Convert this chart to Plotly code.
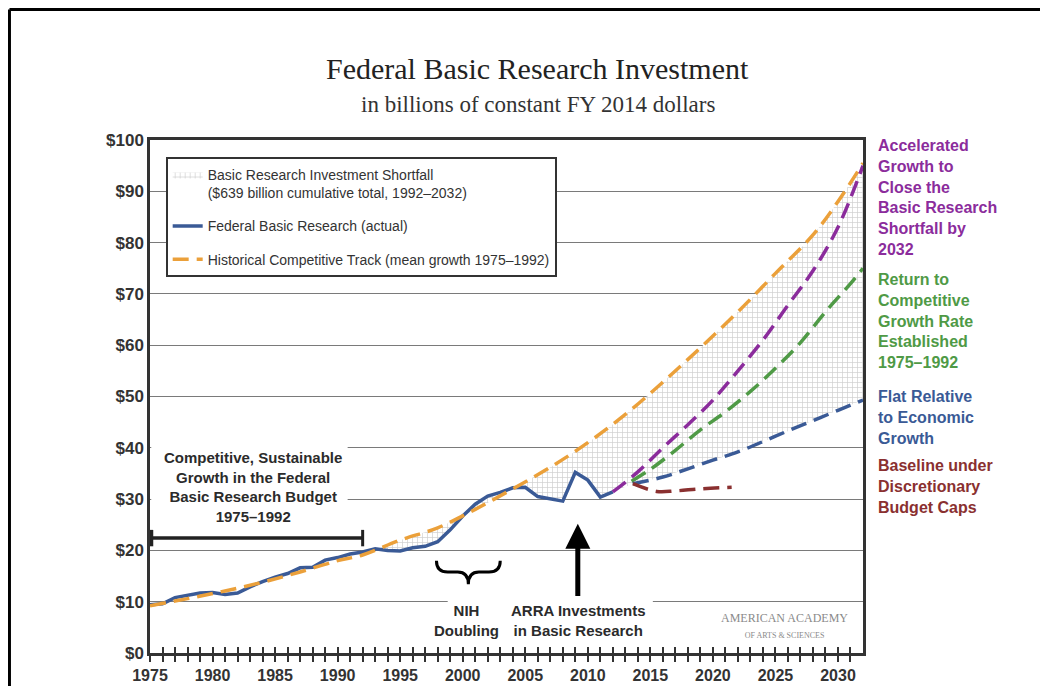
import plotly.graph_objects as go

# actual federal basic research, billions of constant FY2014 dollars
actual_years = list(range(1975, 2013))
actual = [9.4, 9.6, 10.8, 11.3, 11.7, 11.8, 11.4, 11.7, 12.9, 13.9,
          14.8, 15.5, 16.6, 16.7, 18.1, 18.6, 19.3, 19.7, 20.3, 20.0,
          19.9, 20.5, 20.8, 21.7, 24.0, 26.7, 29.0, 30.6, 31.3, 32.2,
          32.3, 30.5, 30.0, 29.6, 35.2, 33.7, 30.4, 31.4]

# historical competitive track (mean growth 1975-1992)
track_years = [1975, 1978, 1981, 1984, 1987, 1990, 1992, 1995, 1998, 2001,
               2004, 2007, 2010, 2013, 2016, 2019, 2022, 2025, 2028, 2030, 2032]
track = [9.2, 10.6, 12.1, 13.8, 15.8, 18.0, 19.1, 22.0, 24.4, 28.0,
         32.0, 36.2, 41.0, 46.5, 52.8, 59.5, 66.5, 74.0, 81.5, 88.0, 95.5]

# projections
accel_years = [2012, 2014, 2016, 2018, 2020, 2022, 2024, 2026, 2028, 2030, 2032]
accel = [31.4, 35.3, 40.0, 44.5, 49.3, 55.0, 61.0, 67.8, 74.5, 83.0, 95.0]

compet_years = [2013.5, 2015, 2017, 2019, 2021, 2023, 2025, 2027, 2029, 2031, 2032]
compet = [33.5, 35.8, 39.5, 43.5, 47.0, 51.0, 55.5, 60.5, 66.5, 72.0, 75.0]

flat_years = [2013.6, 2016, 2018, 2020, 2022, 2024, 2026, 2028, 2030, 2032]
flat = [33.0, 34.3, 35.9, 37.6, 39.2, 41.2, 43.3, 45.3, 47.3, 49.3]

caps_years = [2013.6, 2015.5, 2017, 2019, 2021.5]
caps = [33.0, 31.5, 31.6, 32.0, 32.3]

tick_years = list(range(1975, 2032))
tick_text = [str(y) if y % 5 == 0 else "" for y in tick_years]

SANS = "Liberation Sans, Arial, sans-serif"
SERIF = "Liberation Serif, DejaVu Serif, serif"
BLUE = "#3a5a96"
ORANGE = "#eba03a"
PURPLE = "#8b2c9c"
GREEN = "#4f9a46"
RED = "#8a3030"
DARK = "#2b2b2b"
DASH = "16px,8px"

# shortfall boundaries (1992 onward)
up_x = [x for x in track_years if x >= 1992]
up_y = [v for x, v in zip(track_years, track) if x >= 1992]
low_x = [x for x in actual_years if x >= 1992] + flat_years
low_y = [v for x, v in zip(actual_years, actual) if x >= 1992] + flat

fig = go.Figure()

fig.add_trace(go.Scatter(x=up_x, y=up_y, mode="lines", line=dict(width=0, shape="spline"),
                         showlegend=False, hoverinfo="skip", legendgroup="a"))
fig.add_trace(go.Scatter(
    x=low_x, y=low_y, mode="lines", line=dict(width=0), fill="tonexty", legendgroup="a",
    fillpattern=dict(shape="+", fgcolor="#9c9c9c", bgcolor="white", size=5, solidity=0.25),
    name="Basic Research Investment Shortfall<br>($639 billion cumulative total, 1992–2032)"))

fig.add_trace(go.Scatter(x=actual_years, y=actual, mode="lines", legendgroup="b",
                         line=dict(color=BLUE, width=3.5),
                         name="Federal Basic Research (actual)"))
fig.add_trace(go.Scatter(x=track_years, y=track, mode="lines", legendgroup="c",
                         line=dict(color=ORANGE, width=3.5, dash=DASH, shape="spline"),
                         name="Historical Competitive Track (mean growth 1975–1992)"))

for xs, ys, col in [(accel_years, accel, PURPLE), (compet_years, compet, GREEN),
                    (flat_years, flat, BLUE), (caps_years, caps, RED)]:
    fig.add_trace(go.Scatter(x=xs, y=ys, mode="lines", showlegend=False,
                             line=dict(color=col, width=3.5, dash=DASH, shape="spline")))

# dummy trace for the overlay axis (inner half of the tick marks)
fig.add_trace(go.Scatter(x=[None], y=[None], xaxis="x2", showlegend=False))

ann = []
ann.append(dict(text="Federal Basic Research Investment", x=0.544, y=1.140, xref="paper", yref="paper",
                yanchor="middle", showarrow=False, font=dict(family=SERIF, size=30, color="#222")))
ann.append(dict(text="in billions of constant FY 2014 dollars", x=0.544, y=1.070, xref="paper", yref="paper",
                yanchor="middle", showarrow=False, font=dict(family=SERIF, size=23, color="#333")))

right = [
    ("Accelerated<br>Growth to<br>Close the<br>Basic Research<br>Shortfall by<br>2032", 1.0097, PURPLE),
    ("Return to<br>Competitive<br>Growth Rate<br>Established<br>1975–1992", 0.7485, GREEN),
    ("Flat Relative<br>to Economic<br>Growth", 0.5205, BLUE),
    ("Baseline under<br>Discretionary<br>Budget Caps", 0.386, RED),
]
for txt, yy, col in right:
    ann.append(dict(text=txt, x=1.018, y=yy, xref="paper", yref="paper", xanchor="left",
                    yanchor="top", align="left", showarrow=False,
                    font=dict(family=SANS, size=16, color=col, weight="bold")))

ann.append(dict(text="Competitive, Sustainable<br>Growth in the Federal<br>Basic Research Budget<br>1975–1992",
                x=1983.2, y=32.3, yanchor="middle", showarrow=False,
                font=dict(family=SANS, size=15, color=DARK, weight="bold")))
ann.append(dict(text="NIH<br>Doubling", x=2000.3, y=6.3, yanchor="middle", showarrow=False,
                font=dict(family=SANS, size=15, color=DARK, weight="bold")))
ann.append(dict(text="ARRA Investments<br>in Basic Research", x=2009.2, y=6.3, yanchor="middle",
                showarrow=False, font=dict(family=SANS, size=15, color=DARK, weight="bold")))
ann.append(dict(text="", x=2009.2, y=25.2, ax=2009.2, ay=10.8, axref="x", ayref="y",
                showarrow=True, arrowhead=2, arrowwidth=5, arrowsize=1.0, arrowcolor="black"))
ann.append(dict(text="AMERICAN ACADEMY<br><span style='font-size:8px'>OF ARTS &amp; SCIENCES</span>",
                x=2025.7, y=5.3, yanchor="middle", showarrow=False,
                font=dict(family=SERIF, size=12, color="#8a8a8a")))

shapes = []
# outer frame (top and left edges)
shapes.append(dict(type="line", xref="paper", yref="paper", x0=-0.1971, x1=1.27, y0=1.2544, y1=1.2544,
                   line=dict(color="black", width=3)))
shapes.append(dict(type="line", xref="paper", yref="paper", x0=-0.1971, x1=-0.1971, y0=1.2544, y1=-0.1,
                   line=dict(color="black", width=3)))
# white patches hiding gridlines behind text
shapes.append(dict(type="rect", x0=1975.1, x1=1990.8, y0=25.5, y1=41.5, layer="between",
                   fillcolor="white", line=dict(width=0)))
shapes.append(dict(type="rect", x0=1998.8, x1=2015.2, y0=2.5, y1=11.5, layer="between",
                   fillcolor="white", line=dict(width=0)))
# 1975-1992 bracket
shapes.append(dict(type="line", x0=1975, x1=1992, y0=22.4, y1=22.4, line=dict(color="#222", width=3.5)))
shapes.append(dict(type="line", x0=1975.1, x1=1975.1, y0=20.8, y1=24.0, line=dict(color="#222", width=4)))
shapes.append(dict(type="line", x0=1992, x1=1992, y0=20.8, y1=24.0, line=dict(color="#222", width=3)))
# NIH doubling brace
shapes.append(dict(type="path",
                   path="M 1997.9,18.0 Q 1997.9,15.8 1998.8,15.8 L 1999.6,15.8 Q 2000.45,15.8 2000.45,13.4 "
                        "Q 2000.45,15.8 2001.3,15.8 L 2002.1,15.8 Q 2003.0,15.8 2003.0,18.0",
                   line=dict(color="black", width=3)))

fig.update_layout(
    width=1032, height=678,
    margin=dict(l=142, r=177, t=132, b=33),
    paper_bgcolor="white", plot_bgcolor="white",
    annotations=ann, shapes=shapes,
    legend=dict(x=0.022, y=0.967, xanchor="left", yanchor="top", bgcolor="white",
                bordercolor="#333", borderwidth=2, itemwidth=30, traceorder="grouped",
                tracegroupgap=12, valign="top", font=dict(family=SANS, size=14, color="#333")),
    xaxis=dict(range=[1975, 2032], tickvals=tick_years, ticktext=tick_text, ticks="outside",
               ticklen=6, tickwidth=1.5, tickcolor="#333", showgrid=False, zeroline=False,
               showline=True, linecolor="#333", linewidth=2.5, mirror=True, automargin=False,
               tickfont=dict(family=SANS, size=16, color="#333", weight="bold")),
    xaxis2=dict(range=[1975, 2032], overlaying="x", anchor="y", side="bottom", tickvals=tick_years,
                ticks="inside", ticklen=6, tickwidth=1.5, tickcolor="#333", showticklabels=False,
                showgrid=False, zeroline=False, showline=False, automargin=False),
    yaxis=dict(range=[0, 100], dtick=10, tickprefix="$", showgrid=True, gridcolor="#7a7a7a",
               gridwidth=1.3, zeroline=False, showline=True, linecolor="#333", linewidth=2.5,
               mirror=True, ticks="", automargin=False,
               tickfont=dict(family=SANS, size=17, color="#333", weight="bold")),
)

fig.write_html("out.html")
